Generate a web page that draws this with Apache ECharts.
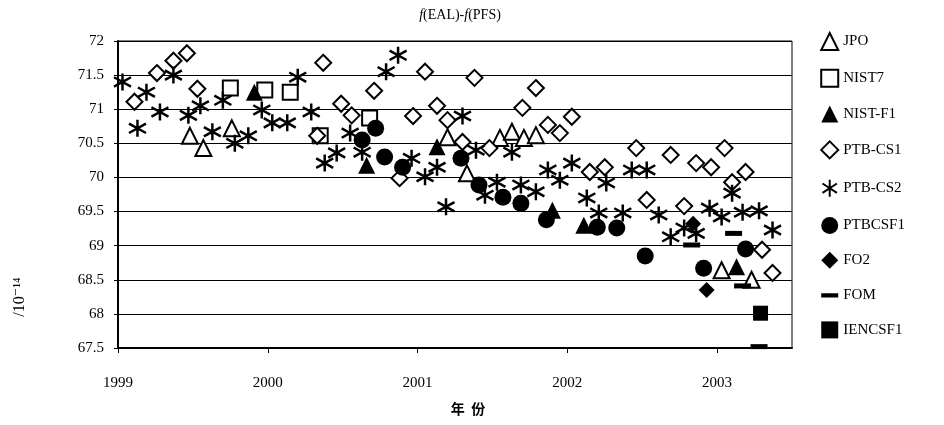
<!DOCTYPE html>
<html>
<head>
<meta charset="utf-8">
<script src="https://cdn.jsdelivr.net/npm/echarts@6/dist/echarts.min.js"></script>
<style>
  html, body { margin: 0; padding: 0; background: #fff; }
  #chart { width: 944px; height: 425px; }
</style>
</head>
<body>
<div id="chart"></div>
<script>
// values: [year, f(EAL)-f(PFS) / 1e-14]
const jpo = [[1999.48, 70.61], [1999.57, 70.43], [1999.76, 70.72], [2001.20, 70.59], [2001.33, 70.06],
  [2001.55, 70.58], [2001.63, 70.67], [2001.71, 70.58], [2001.79, 70.62], [2003.03, 68.64], [2003.23, 68.50]]
const nist7 = [[1999.75, 71.31], [1999.98, 71.28], [2000.15, 71.25], [2000.35, 70.61], [2000.68, 70.87]]
const nistF1 = [[1999.91, 71.25], [2000.66, 70.18], [2001.13, 70.45], [2001.90, 69.52], [2002.11, 69.30], [2003.13, 68.69]]
const ptbCs1 = [[1999.11, 71.11], [1999.26, 71.53], [1999.37, 71.71], [1999.46, 71.82], [1999.53, 71.30],
  [2000.33, 70.61], [2000.37, 71.68], [2000.49, 71.08], [2000.56, 70.91], [2000.71, 71.27], [2000.88, 69.99],
  [2000.97, 70.90], [2001.05, 71.55], [2001.13, 71.05], [2001.20, 70.84], [2001.30, 70.52], [2001.38, 71.46],
  [2001.48, 70.43], [2001.70, 71.02], [2001.79, 71.31], [2001.87, 70.77], [2001.95, 70.65], [2002.03, 70.89],
  [2002.15, 70.08], [2002.25, 70.15], [2002.46, 70.43], [2002.53, 69.67], [2002.69, 70.33], [2002.78, 69.58],
  [2002.86, 70.21], [2002.96, 70.15], [2003.05, 70.43], [2003.10, 69.93], [2003.19, 70.08], [2003.30, 68.94],
  [2003.37, 68.60]]
const ptbCs2 = [[1999.03, 71.40], [1999.13, 70.72], [1999.19, 71.25], [1999.28, 70.96], [1999.37, 71.50],
  [1999.47, 70.91], [1999.55, 71.05], [1999.63, 70.67], [1999.70, 71.13], [1999.78, 70.50], [1999.87, 70.61],
  [1999.96, 70.99], [2000.03, 70.80], [2000.13, 70.80], [2000.20, 71.47], [2000.29, 70.96], [2000.38, 70.21],
  [2000.46, 70.36], [2000.55, 70.65], [2000.63, 70.37], [2000.79, 71.55], [2000.87, 71.79], [2000.96, 70.28],
  [2001.05, 70.01], [2001.13, 70.15], [2001.19, 69.57], [2001.30, 70.90], [2001.39, 70.40], [2001.45, 69.74],
  [2001.53, 69.93], [2001.63, 70.37], [2001.69, 69.89], [2001.79, 69.79], [2001.87, 70.11], [2001.95, 69.96],
  [2002.03, 70.21], [2002.13, 69.70], [2002.21, 69.48], [2002.26, 69.92], [2002.37, 69.48], [2002.43, 70.11],
  [2002.53, 70.11], [2002.61, 69.45], [2002.69, 69.13], [2002.78, 69.26], [2002.86, 69.18], [2002.95, 69.55],
  [2003.03, 69.42], [2003.10, 69.77], [2003.17, 69.49], [2003.28, 69.51], [2003.37, 69.23]]
const ptbCsF1 = [[2000.63, 70.55], [2000.72, 70.72], [2000.78, 70.30], [2000.90, 70.15], [2001.29, 70.28],
  [2001.41, 69.89], [2001.57, 69.71], [2001.69, 69.62], [2001.86, 69.38], [2002.20, 69.27], [2002.33, 69.26],
  [2002.52, 68.85], [2002.91, 68.67], [2003.19, 68.95]]
const fo2 = [[2002.84, 69.32], [2002.93, 68.35]]
const fom = [[2002.83, 69.01], [2003.11, 69.18], [2003.17, 68.41], [2003.28, 67.52]]
const iencsF1 = [[2003.29, 68.01]]

const seriesNames = ['JPO', 'NIST7', 'NIST-F1', 'PTB-CS1', 'PTB-CS2', 'PTBCSF1', 'FO2', 'FOM', 'IENCSF1']
const yearTicks = [1999, 2000, 2001, 2002, 2003]

const serif = '"Liberation Serif", "DejaVu Serif", serif'
const star = 'path://M10 0 L10 20 M1.5 4.5 L18.5 15.5 M1.5 15.5 L18.5 4.5'
// thin bar, padded with tiny specks so the legend keeps it flat
const barIcon = 'path://M0 0 L0.01 0 L0.01 0.01 Z M0 7 L18 7 L18 11.5 L0 11.5 Z M17.99 17.99 L18 17.99 L18 18 Z'

const open = { color: '#fff', borderColor: '#000', borderWidth: 2, opacity: 1 }
const solid = { color: '#000', opacity: 1 }

function scatter(name, data, symbol, size, style) {
  return {
    name: name,
    type: 'scatter',
    data: data,
    symbol: symbol,
    symbolSize: size,
    itemStyle: style,
    clip: false
  }
}

const chart = echarts.init(document.getElementById('chart'))
chart.setOption({
  animation: false,
  backgroundColor: '#fff',
  title: {
    text: '{i|f}(EAL)-{i|f}(PFS)',
    left: 455,
    top: 3,
    textAlign: 'center',
    textStyle: {
      fontFamily: serif,
      fontSize: 14,
      fontWeight: 'normal',
      color: '#000',
      rich: {
        i: { fontStyle: 'italic', fontFamily: serif, fontSize: 14, color: '#000' }
      }
    }
  },
  grid: {
    left: 118,
    right: 152,
    top: 41,
    bottom: 77,
    show: true,
    borderColor: '#000',
    borderWidth: 1
  },
  legend: {
    data: seriesNames.map(n => (n === 'FOM' ? { name: n, icon: barIcon } : n)),
    orient: 'vertical',
    left: 815,
    top: 27,
    itemGap: 17.8,
    itemWidth: 17,
    itemHeight: 17,
    textStyle: { fontFamily: serif, fontSize: 15, color: '#000' }
  },
  xAxis: {
    type: 'value',
    min: 1999,
    max: 2003.5,
    interval: 1,
    axisLine: { show: true, onZero: false, lineStyle: { color: '#000', width: 2 } },
    axisTick: { show: true, length: 5, inside: false, lineStyle: { color: '#000' } },
    splitLine: { show: false },
    axisLabel: {
      showMaxLabel: false,
      margin: 28,
      fontFamily: serif,
      fontSize: 15,
      color: '#000',
      formatter: v => (yearTicks.indexOf(v) >= 0 ? String(v) : '')
    }
  },
  yAxis: {
    type: 'value',
    min: 67.5,
    max: 72,
    interval: 0.5,
    axisLine: { show: true, lineStyle: { color: '#000', width: 2 } },
    axisTick: { show: true, length: 4, lineStyle: { color: '#000' } },
    splitLine: { show: true, lineStyle: { color: '#000', width: 1 } },
    axisLabel: {
      margin: 14,
      fontFamily: serif,
      fontSize: 15,
      color: '#000'
    }
  },
  graphic: [
    {
      type: 'text',
      x: 20,
      y: 297,
      rotation: Math.PI / 2,
      style: {
        text: '/10⁻¹⁴',
        font: '16px ' + serif,
        fill: '#000',
        align: 'center',
        verticalAlign: 'middle'
      }
    },
    {
      type: 'text',
      x: 468,
      y: 409,
      style: {
        text: '年  份',
        font: 'bold 14px "Noto Sans CJK SC"',
        fill: '#000',
        align: 'center',
        verticalAlign: 'middle'
      }
    }
  ],
  series: [
    scatter('JPO', jpo, 'triangle', 16, open),
    scatter('NIST7', nist7, 'rect', 15, open),
    scatter('NIST-F1', nistF1, 'triangle', 17, solid),
    scatter('PTB-CS1', ptbCs1, 'diamond', 16, open),
    scatter('PTB-CS2', ptbCs2, star, 17, { color: 'none', borderColor: '#000', borderWidth: 2.5, opacity: 1 }),
    scatter('PTBCSF1', ptbCsF1, 'circle', 17, solid),
    scatter('FO2', fo2, 'diamond', 16, solid),
    scatter('FOM', fom, 'rect', [17, 5], solid),
    scatter('IENCSF1', iencsF1, 'rect', 15, solid)
  ]
})
</script>
</body>
</html>
